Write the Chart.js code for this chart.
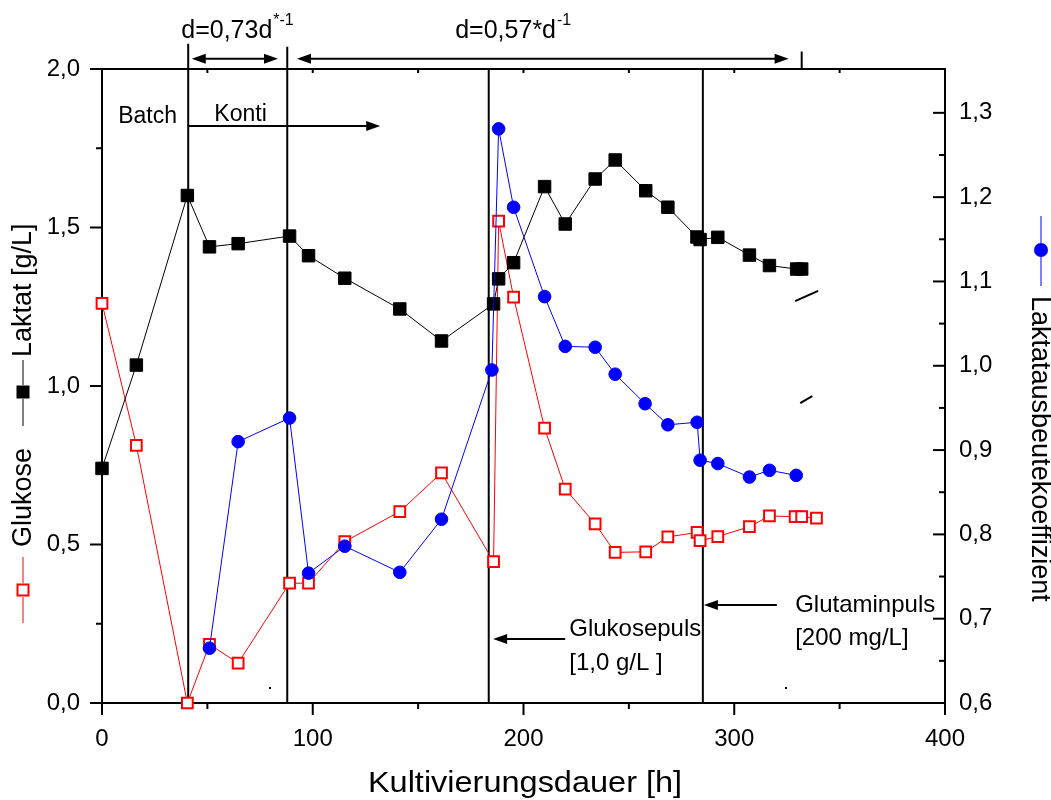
<!DOCTYPE html>
<html>
<head>
<meta charset="utf-8">
<script src="https://cdn.jsdelivr.net/npm/chart.js@4.4.1/dist/chart.umd.min.js"></script>
<style>
  html, body { margin: 0; padding: 0; background: #fff; }
  #wrap { width: 1051px; height: 800px; }
</style>
</head>
<body>
<div id="wrap"><canvas id="chart" width="1051" height="800"></canvas></div>
<script>
// Values (time in h)
const laktatTime = [0, 16.3, 40.5, 51, 64.6, 89, 98, 115.2, 141.3, 161.1, 185.8, 188.2, 195.3, 210, 219.8, 234, 243.5, 258, 268.5, 282.3, 283.8, 292.2, 307.2, 316.7, 329.6, 332];
const laktat = [0.74, 1.066, 1.601, 1.439, 1.449, 1.473, 1.411, 1.34, 1.243, 1.142, 1.259, 1.338, 1.389, 1.629, 1.511, 1.653, 1.713, 1.616, 1.564, 1.47, 1.462, 1.469, 1.413, 1.38, 1.369, 1.369];

const glukoseTime = [0, 16.3, 40.5, 51, 64.6, 89, 98, 115.2, 141.3, 161.1, 185.8, 188.2, 195.3, 210, 219.8, 234, 243.5, 258, 268.5, 282.4, 283.8, 292.2, 307.2, 316.7, 328.9, 332, 339];
const glukose = [1.261, 0.813, 0, 0.185, 0.126, 0.378, 0.378, 0.509, 0.604, 0.726, 0.446, 1.52, 1.28, 0.867, 0.675, 0.565, 0.475, 0.477, 0.524, 0.538, 0.512, 0.525, 0.556, 0.59, 0.588, 0.588, 0.583];

const ausbeuteTime = [51, 64.6, 89, 98, 115.2, 141.3, 161.1, 185, 188.2, 195.3, 210, 219.8, 234, 243.5, 257.7, 268.5, 282.4, 283.8, 292.2, 307.2, 316.7, 329.4];
const ausbeute = [0.665, 0.910, 0.938, 0.754, 0.786, 0.755, 0.818, 0.995, 1.281, 1.188, 1.082, 1.023, 1.022, 0.990, 0.955, 0.930, 0.933, 0.888, 0.884, 0.868, 0.876, 0.870];

const xTicks = [0, 100, 200, 300, 400];
const yTicks = [0, 0.5, 1.0, 1.5, 2.0];
const y2Ticks = [0.6, 0.7, 0.8, 0.9, 1.0, 1.1, 1.2, 1.3];

// annotations (x in h, y in g/L of the left axis)
const phaseLines = [
  { x: 40.9, top: 2.08, bottom: 0 },
  { x: 87.9, top: 2.07, bottom: 0 },
  { x: 183.5, top: 2.0, bottom: 0 },
  { x: 285.1, top: 2.0, bottom: 0 },
  { x: 332, top: 2.055, bottom: 2.0 }
];
const arrows = [
  { x1: 42.6, x2: 83.5, y: 2.032, both: true },
  { x1: 92.5, x2: 325.8, y: 2.032, both: true },
  { x1: 40.9, x2: 132, y: 1.82, both: false },
  { x1: 219.8, x2: 185.6, y: 0.202, both: false },
  { x1: 320.2, x2: 285.6, y: 0.309, both: false }
];
const labels = [
  { text: "Batch", x: 7.7, y: 1.83 },
  { text: "Konti", x: 53.3, y: 1.836 },
  { text: "Glukosepuls", x: 221.7, y: 0.211 },
  { text: "[1,0 g/L ]", x: 221.7, y: 0.104 },
  { text: "Glutaminpuls", x: 328.9, y: 0.287 },
  { text: "[200 mg/L]", x: 328.9, y: 0.183 }
];
const rateLabels = [
  { text: "d=0,73d", sup: "*-1", x: 37.6, y: 2.098 },
  { text: "d=0,57*d", sup: "-1", x: 167.6, y: 2.098 }
];
const strayMarks = [
  { x1: 328.9, y1: 1.268, x2: 339.8, y2: 1.30 },
  { x1: 331.3, y1: 0.946, x2: 337, y2: 0.968 }
];

const FONT = "'Liberation Sans', Arial, Helvetica, sans-serif";
const comma = v => Number(v).toFixed(1).replace(".", ",");
const pts = (xs, ys) => xs.map((x, i) => ({ x: x, y: ys[i] }));

function line(c, x1, y1, x2, y2) {
  c.beginPath(); c.moveTo(x1, y1); c.lineTo(x2, y2); c.stroke();
}
function head(c, x, y, dir) {
  c.beginPath();
  c.moveTo(x, y);
  c.lineTo(x - dir * 14, y - 5);
  c.lineTo(x - dir * 14, y + 5);
  c.closePath();
  c.fill();
}

const decor = {
  id: "decor",
  beforeDatasetsDraw(chart) {
    const c = chart.ctx, s = chart.scales, a = chart.chartArea;
    const X = v => s.x.getPixelForValue(v), Y = v => s.y.getPixelForValue(v), Y2 = v => s.y2.getPixelForValue(v);
    c.save();
    c.strokeStyle = "#000"; c.fillStyle = "#000"; c.lineWidth = 2;
    // frame
    c.strokeRect(a.left, a.top, a.right - a.left, a.bottom - a.top);
    // x ticks, bottom outward, top inward
    for (let i = 0; i < xTicks.length; i++) {
      const px = X(xTicks[i]);
      line(c, px, a.bottom, px, a.bottom + 12);
      line(c, px, a.top, px, a.top + 4);
      if (i < xTicks.length - 1) {
        const m = X((xTicks[i] + xTicks[i + 1]) / 2);
        line(c, m, a.bottom, m, a.bottom + 6);
        line(c, m, a.top, m, a.top + 4);
      }
    }
    // left ticks outward
    for (let i = 0; i < yTicks.length; i++) {
      const py = Y(yTicks[i]);
      line(c, a.left - 12, py, a.left, py);
      if (i < yTicks.length - 1) {
        const m = Y((yTicks[i] + yTicks[i + 1]) / 2);
        line(c, a.left - 6, m, a.left, m);
      }
    }
    // right ticks inward
    for (let i = 0; i < y2Ticks.length; i++) {
      const py = Y2(y2Ticks[i]);
      line(c, a.right - 12, py, a.right, py);
      if (i < y2Ticks.length - 1) {
        const m = Y2((y2Ticks[i] + y2Ticks[i + 1]) / 2);
        line(c, a.right - 6, m, a.right, m);
      }
    }
    // phase lines
    phaseLines.forEach(p => line(c, X(p.x), Y(p.top), X(p.x), Y(p.bottom)));
    c.restore();
  },
  afterDraw(chart) {
    const c = chart.ctx, s = chart.scales;
    const X = v => s.x.getPixelForValue(v), Y = v => s.y.getPixelForValue(v);
    c.save();
    c.strokeStyle = "#000"; c.fillStyle = "#000";
    // arrows
    arrows.forEach(ar => {
      const x1 = X(ar.x1), x2 = X(ar.x2), y = Y(ar.y);
      const dir = x2 > x1 ? 1 : -1;
      c.lineWidth = 2;
      line(c, x1 + (ar.both ? dir * 10 : 0), y, x2 - dir * 10, y);
      head(c, x2, y, dir);
      if (ar.both) head(c, x1, y, -dir);
    });
    c.lineWidth = 2;
    strayMarks.forEach(m => line(c, X(m.x1), Y(m.y1), X(m.x2), Y(m.y2)));
    c.fillRect(269, 687, 2, 2);
    c.fillRect(785, 687, 2, 2);

    // text labels
    c.textAlign = "left"; c.textBaseline = "alphabetic";
    labels.forEach(l => {
      c.font = (l.text === "Batch" || l.text === "Konti" ? "23px " : "24px ") + FONT;
      c.fillText(l.text, X(l.x), Y(l.y));
    });
    rateLabels.forEach(l => {
      c.font = "25px " + FONT;
      c.fillText(l.text, X(l.x), Y(l.y));
      const w = c.measureText(l.text).width;
      c.font = "16px " + FONT;
      c.fillText(l.sup, X(l.x) + w + 1, Y(l.y) - 13);
    });

    // x axis title
    c.save();
    c.font = "29px " + FONT;
    c.textAlign = "center";
    c.translate(525, 792);
    c.scale(1.12, 1);
    c.fillText("Kultivierungsdauer [h]", 0, 0);
    c.restore();

    // left axis title with symbols
    c.lineWidth = 1;
    c.strokeStyle = "#ff0000";
    line(c, 23, 623, 23, 597);
    line(c, 23, 583, 23, 557);
    c.fillStyle = "#fff"; c.lineWidth = 2;
    c.fillRect(17.5, 584.5, 11, 11);
    c.strokeRect(17.5, 584.5, 11, 11);
    c.strokeStyle = "#000"; c.fillStyle = "#000"; c.lineWidth = 1;
    line(c, 23, 426, 23, 399);
    line(c, 23, 385, 23, 360);
    c.fillRect(16.5, 385.5, 13, 13);
    c.font = "27px " + FONT;
    c.textBaseline = "middle"; c.textAlign = "left";
    c.save(); c.translate(24, 547); c.rotate(-Math.PI / 2); c.fillText("Glukose", 0, 0); c.restore();
    c.save(); c.translate(24, 357); c.rotate(-Math.PI / 2); c.fillText("Laktat [g/L]", 0, 0); c.restore();

    // right axis title
    c.strokeStyle = "#0000ff"; c.fillStyle = "#0000ff"; c.lineWidth = 1;
    line(c, 1041, 216, 1041, 243);
    line(c, 1041, 257, 1041, 286);
    c.beginPath(); c.arc(1041, 250, 7, 0, Math.PI * 2); c.fill();
    c.fillStyle = "#000";
    c.save(); c.translate(1039, 296); c.rotate(Math.PI / 2); c.fillText("Laktatausbeutekoeffizient", 0, 0); c.restore();
    c.restore();
  }
};

const tickFont = { family: FONT, size: 24 };

new Chart(document.getElementById("chart"), {
  type: "line",
  data: {
    datasets: [
      {
        label: "Laktatausbeutekoeffizient",
        data: pts(ausbeuteTime, ausbeute),
        yAxisID: "y2",
        borderColor: "#0000ff",
        borderWidth: 1,
        pointStyle: "circle",
        pointRadius: 6.3,
        pointBackgroundColor: "#0000ff",
        pointBorderColor: "#0000ff",
        pointBorderWidth: 1,
        clip: false,
        order: 0
      },
      {
        label: "Laktat",
        data: pts(laktatTime, laktat),
        yAxisID: "y",
        borderColor: "#000",
        borderWidth: 1,
        pointStyle: "rect",
        pointRadius: 8.8,
        pointBackgroundColor: "#000",
        pointBorderColor: "#000",
        pointBorderWidth: 1,
        clip: false,
        order: 1
      },
      {
        label: "Glukose",
        data: pts(glukoseTime, glukose),
        yAxisID: "y",
        borderColor: "#ff0000",
        borderWidth: 1,
        pointStyle: "rect",
        pointRadius: 7.6,
        pointBackgroundColor: "#fff",
        pointBorderColor: "#ff0000",
        pointBorderWidth: 2,
        clip: false,
        order: 2
      }
    ]
  },
  options: {
    responsive: false,
    animation: false,
    layout: { padding: { top: 69, left: 0, right: 0, bottom: 0 } },
    plugins: { legend: { display: false }, tooltip: { enabled: false } },
    scales: {
      x: {
        type: "linear", min: 0, max: 400,
        afterBuildTicks: sc => { sc.ticks = xTicks.map(v => ({ value: v })); },
        afterFit: sc => { sc.height = 97; },
        grid: { display: false, drawTicks: false },
        border: { display: false },
        ticks: { font: tickFont, color: "#000", padding: 22, autoSkip: false, maxRotation: 0, callback: v => String(v) }
      },
      y: {
        type: "linear", position: "left", min: 0, max: 2,
        afterBuildTicks: sc => { sc.ticks = yTicks.map(v => ({ value: v })); },
        afterFit: sc => { sc.width = 102; },
        grid: { display: false, drawTicks: false },
        border: { display: false },
        ticks: { font: tickFont, color: "#000", padding: 22, autoSkip: false, callback: v => comma(v) }
      },
      y2: {
        type: "linear", position: "right", min: 0.6, max: 1.352,
        afterBuildTicks: sc => { sc.ticks = y2Ticks.map(v => ({ value: v })); },
        afterFit: sc => { sc.width = 106; },
        grid: { display: false, drawTicks: false },
        border: { display: false },
        ticks: { font: tickFont, color: "#000", padding: 14, autoSkip: false, callback: v => comma(v) }
      }
    }
  },
  plugins: [decor]
});
</script>
</body>
</html>
